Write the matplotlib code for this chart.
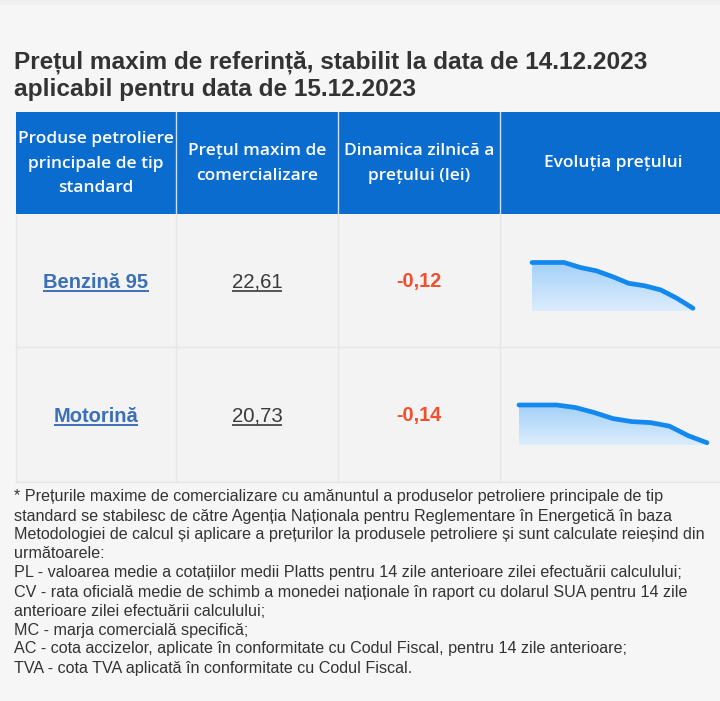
import matplotlib
matplotlib.use("Agg")
import matplotlib.pyplot as plt
import numpy as np
from matplotlib.colors import LinearSegmentedColormap

# ---------------- data ----------------
title_lines = ["Prețul maxim de referință, stabilit la data de 14.12.2023",
               "aplicabil pentru data de 15.12.2023"]
headers = [["Produse petroliere", "principale de tip", "standard"],
           ["Prețul maxim de", "comercializare"],
           ["Dinamica zilnică a", "prețului (lei)"],
           ["Evoluția prețului"]]
products = ["Benzină 95", "Motorină"]
prices = [22.61, 20.73]
changes = [-0.12, -0.14]
history_benzina = [23.16, 23.16, 23.16, 23.10, 23.06, 22.99, 22.91, 22.88, 22.83, 22.73, 22.61]
history_motorina = [21.48, 21.48, 21.48, 21.43, 21.33, 21.21, 21.15, 21.13, 21.06, 20.87, 20.73]
footnote = [
    "* Prețurile maxime de comercializare cu amănuntul a produselor petroliere principale de tip",
    "standard se stabilesc de către Agenția Naționala pentru Reglementare în Energetică în baza",
    "Metodologiei de calcul și aplicare a prețurilor la produsele petroliere și sunt calculate reieșind din",
    "următoarele:",
    "PL - valoarea medie a cotațiilor medii Platts pentru 14 zile anterioare zilei efectuării calculului;",
    "CV - rata oficială medie de schimb a monedei naționale în raport cu dolarul SUA pentru 14 zile",
    "anterioare zilei efectuării calculului;",
    "MC - marja comercială specifică;",
    "AC - cota accizelor, aplicate în conformitate cu Codul Fiscal, pentru 14 zile anterioare;",
    "TVA - cota TVA aplicată în conformitate cu Codul Fiscal.",
]

# ---------------- figure ----------------
W, H = 720, 701
fig = plt.figure(figsize=(W / 100, H / 100), dpi=100)
fig.patch.set_facecolor("#f6f6f6")
ax = fig.add_axes([0, 0, 1, 1])
ax.set_xlim(0, W)
ax.set_ylim(H, 0)
ax.axis("off")
renderer = fig.canvas.get_renderer()


def fitted_size(s, target, **kw):
    t = ax.text(0, -100, s, fontsize=12, **kw)
    w = t.get_window_extent(renderer=renderer).width
    t.remove()
    return 12 * target / w


def underline(t, color, offset=3.5, lw=1.2):
    bb = t.get_window_extent(renderer=renderer)
    y = t.get_position()[1] + offset
    ax.plot([bb.x0, bb.x1], [y, y], color=color, lw=lw, solid_capstyle="butt")


# top strip
ax.add_patch(plt.Rectangle((0, 0), W, 5, color="#efefef", lw=0))

# title
TITLE_FONT = "Liberation Sans"
fs_title = fitted_size(title_lines[0], 631, fontweight="bold", family=TITLE_FONT)
for ln, yb in zip(title_lines, [69, 96]):
    ax.text(14, yb, ln, fontsize=fs_title, fontweight="bold", family=TITLE_FONT,
            color="#333333", va="baseline", ha="left")

# table geometry
col_edges = [16, 176, 338, 500, 722]
hdr_top, hdr_bot = 112, 214
row_edges = [214, 347, 482]

# header
ax.add_patch(plt.Rectangle((col_edges[0], hdr_top), col_edges[-1] - col_edges[0],
                           hdr_bot - hdr_top, color="#0a6cce", lw=0))
for x in col_edges[1:-1]:
    ax.plot([x, x], [hdr_top, hdr_bot], color="#cfe0f3", lw=1.0)

HFONT = "Open Sans"
fs_hdr = fitted_size(headers[0][0], 156, fontweight="semibold", family=HFONT)

hdr_centers_y = {3: [139, 164, 188], 2: [151, 176], 1: [163]}
for i, lines in enumerate(headers):
    cx = (col_edges[i] + col_edges[i + 1]) / 2
    if i == 3:
        cx = 613
    for ln, cy in zip(lines, hdr_centers_y[len(lines)]):
        ax.text(cx, cy, ln, fontsize=fs_hdr, fontweight="semibold", family=HFONT,
                color="white", ha="center", va="center")

# body cells
ax.add_patch(plt.Rectangle((col_edges[0], row_edges[0]), col_edges[-1] - col_edges[0],
                           row_edges[-1] - row_edges[0], color="#f3f3f3", lw=0))
grid_c = "#e6e6e6"
for y in row_edges[1:]:
    ax.plot([col_edges[0], col_edges[-1]], [y, y], color=grid_c, lw=1.0)
for x in col_edges[:-1]:
    ax.plot([x, x], [row_edges[0], row_edges[-1]], color=grid_c, lw=1.0)

BFONT = "Liberation Sans"
fs_name = fitted_size(products[0], 105, fontweight="bold", family=BFONT)
fs_price = fitted_size("22,61", 51, family=BFONT)
fs_chg = fitted_size("-0,12", 45, fontweight="bold", family=BFONT)
for r, name in enumerate(products):
    cy = (row_edges[r] + row_edges[r + 1]) / 2 + 7
    c0 = (col_edges[0] + col_edges[1]) / 2
    c1 = (col_edges[1] + col_edges[2]) / 2
    c2 = (col_edges[2] + col_edges[3]) / 2
    t = ax.text(c0, cy, name, fontsize=fs_name, fontweight="bold", family=BFONT,
                color="#3b6fb6", ha="center", va="baseline")
    underline(t, "#3b6fb6", offset=3.0, lw=1.4)
    t = ax.text(c1, cy, f"{prices[r]:.2f}".replace(".", ","), fontsize=fs_price,
                family=BFONT, color="#3a3a3a", ha="center", va="baseline")
    underline(t, "#3a3a3a", offset=3.0, lw=1.2)
    ax.text(c2, cy, f"{changes[r]:.2f}".replace(".", ","), fontsize=fs_chg,
            fontweight="bold", family=BFONT, color="#f0502f", ha="center", va="baseline")

# sparklines
cmap = LinearSegmentedColormap.from_list("g", ["#dcedfc", "#a3d0f8"])


def spark(values, x0, x1, ytop, ybot, pad_frac):
    sax = fig.add_axes([x0 / W, 1 - ybot / H, (x1 - x0) / W, (ybot - ytop) / H])
    sax.axis("off")
    xs = np.arange(len(values))
    vmax, vmin = max(values), min(values)
    base = vmin - (vmax - vmin) * pad_frac
    sax.set_xlim(xs[0], xs[-1])
    sax.set_ylim(base, vmax)
    poly = sax.fill_between(xs, values, base, color="none", lw=0)
    grad = np.linspace(0, 1, 256).reshape(-1, 1)
    im = sax.imshow(grad, extent=(xs[0], xs[-1], base, vmax), origin="lower",
                    cmap=cmap, aspect="auto", zorder=1)
    im.set_clip_path(poly.get_paths()[0], transform=sax.transData)
    sax.plot(xs, values, color="#1389ef", lw=3.4, solid_joinstyle="round",
             solid_capstyle="round", zorder=2, clip_on=False)


spark(history_benzina, 532, 693, 262.5, 311, 0.06)
spark(history_motorina, 519, 707, 405, 445, 0.06)

# footnote
fs_foot = fitted_size(footnote[0], 651, family=BFONT)
for i, ln in enumerate(footnote):
    ax.text(14, 497 + 19 * i, ln, fontsize=fs_foot, family=BFONT, color="#333333",
            ha="left", va="center")

fig.savefig("out.png", dpi=100, facecolor=fig.get_facecolor())
